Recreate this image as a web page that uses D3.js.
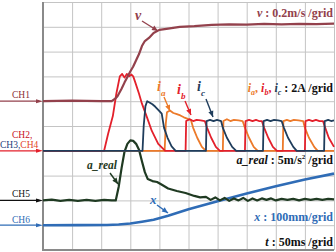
<!DOCTYPE html>
<html>
<head>
<meta charset="utf-8">
<script src="https://cdn.jsdelivr.net/npm/d3@7"></script>
<style>
  body { margin: 0; background: #fff; }
  svg { display: block; }
  text { font-family: "Liberation Serif", "Times New Roman", serif; }
</style>
</head>
<body>
<script>
// time in ms, 50 ms per grid
const timeTicks = [0, 50, 100, 150, 200, 250, 300, 350, 400, 450, 500]
const rowTicks = [0, 1, 2, 3, 4, 5, 6, 7, 8, 9, 10]

// v (m/s)
const speed = [
  [0, 0], [50, 0.005], [100, 0], [118, 0], [124, 0.02], [128, 0.04], [135, 0.1], [140, 0.15],
  [145, 0.195], [150, 0.24], [155, 0.28], [160, 0.33], [165, 0.38], [170, 0.445],
  [175, 0.485], [182, 0.51], [190, 0.55], [200, 0.575], [215, 0.585], [235, 0.6],
  [260, 0.605], [290, 0.615], [320, 0.62], [350, 0.618], [380, 0.623], [410, 0.62],
  [440, 0.624], [470, 0.621], [500, 0.625]
]

// phase currents (A)
const currentA = [
  [0, 0], [209, 0], [211, 2.2], [213, 3.1], [218, 3.25], [224, 3.05], [230, 2.95],
  [236, 2.85], [242, 2.7], [250, 2.55], [254, 2.5], [258, 1.85], [265, 1.05], [273, 0.32],
  [280, 0], [309, 0], [310, 2.4], [316, 2.55], [322, 2.4], [328, 2.5], [336, 2.45],
  [343, 2.4], [347, 1.85], [354, 1.05], [362, 0.32], [369, 0], [412, 0], [413, 2.4],
  [419, 2.5], [425, 2.4], [431, 2.5], [439, 2.45], [447, 2.4], [450, 1.85], [457, 1.05],
  [466, 0.32], [472, 0], [500, 0]
]
const currentB = [
  [0, 0], [105, 0], [112, 1.4], [120, 2.8], [126, 4.6], [132, 6.0], [136, 6.2], [140, 5.9],
  [144, 6.2], [148, 6.0], [152, 6.15], [155, 6.0], [158, 5.6], [165, 4.6], [170, 3.8],
  [179, 2.66], [187, 1.6], [198, 0.56], [210, 0], [245, 0], [246, 2.4], [252, 2.55],
  [258, 2.4], [264, 2.5], [271, 2.45], [278, 2.4], [282, 1.85], [289, 1.05], [297, 0.32],
  [304, 0], [347, 0], [348, 2.4], [354, 2.5], [360, 2.4], [366, 2.5], [371, 2.4],
  [376, 2.4], [380, 1.85], [387, 1.05], [395, 0.32], [402, 0], [450, 0], [451, 2.4],
  [457, 2.5], [463, 2.4], [469, 2.5], [475, 2.4], [481, 2.4], [485, 1.85], [491, 1.05],
  [500, 0.32]
]
const currentC = [
  [0, 0], [171, 0], [173, 2.0], [176, 3.6], [179, 4.0], [183, 3.9], [188, 3.75],
  [193, 3.55], [198, 3.3], [204, 3.0], [208, 1.85], [214, 1.05], [221, 0.35], [228, 0],
  [280, 0], [281, 2.4], [287, 2.5], [293, 2.4], [299, 2.5], [306, 2.4], [309, 1.85],
  [316, 1.05], [325, 0.32], [332, 0], [378, 0], [379, 2.4], [385, 2.5], [391, 2.4],
  [397, 2.5], [404, 2.45], [410, 2.4], [414, 1.85], [421, 1.05], [430, 0.32], [436, 0],
  [483, 0], [484, 2.4], [490, 2.5], [495, 2.4], [500, 2.45]
]

// a_real (m/s^2)
const accel = [
  [0, 0], [15, 0.15], [30, -0.1], [45, 0.1], [60, -0.1], [75, 0.12], [90, -0.08],
  [105, 0.1], [118, 0], [125, 0], [130, 2.7], [135, 6.5], [140, 9.8], [145, 11.4],
  [150, 12.1], [155, 12.0], [160, 11.4], [165, 10.2], [170, 7.9], [175, 5.7], [180, 4.3],
  [188, 3.9], [196, 3.7], [205, 3.1], [215, 2.4], [230, 1.9], [245, 1.5], [260, 0.9],
  [270, 0.6], [280, 0.7], [288, 0.1], [296, 0.6], [304, 0.0], [312, 0.5], [320, -0.1],
  [328, 0.4], [336, 0.0], [344, 0.5], [352, -0.1], [360, 0.4], [368, 0.0], [376, 0.4],
  [384, 0.1], [392, 0.4], [400, 0.0], [410, 0.3], [420, 0.1], [430, 0.3], [440, 0.0],
  [450, 0.3], [460, 0.1], [470, 0.3], [480, 0.1], [490, 0.3], [500, 0.2]
]

// x (mm)
const position = [
  [0, 0], [60, 0.5], [110, 1], [130, 3], [150, 7], [170, 14], [190, 22], [215, 38],
  [250, 64], [300, 97], [350, 128], [400, 157], [450, 184], [500, 208]
]

const size = { width: 336, height: 252 }
const plot = { left: 43, right: 334, top: 2, bottom: 250 }

const svg = d3.select('body')
  .append('svg')
  .attr('width', size.width)
  .attr('height', size.height)

const xScale = d3.scaleLinear().domain([0, 500]).range([plot.left, plot.right])
const rowScale = d3.scaleLinear().domain([0, 10]).range([plot.top, plot.bottom])

function channelScale(row, perGrid) {
  return d3.scaleLinear().domain([0, perGrid]).range([rowScale(row), rowScale(row - 1)])
}
const vScale = channelScale(4, 0.2)
const iScale = channelScale(6, 2)
const aScale = channelScale(8, 5)
const pScale = channelScale(9, 100)

// grid
svg.append('g')
  .attr('transform', 'translate(0,' + plot.bottom + ')')
  .call(d3.axisBottom(xScale).tickValues(timeTicks).tickSize(-(plot.bottom - plot.top)).tickFormat(''))
  .call(g => g.select('.domain').remove())
  .selectAll('line').attr('stroke', '#c4c4c4').attr('stroke-width', 1)

svg.append('g')
  .attr('transform', 'translate(' + plot.left + ',0)')
  .call(d3.axisLeft(rowScale).tickValues(rowTicks).tickSize(-(plot.right - plot.left)).tickFormat(''))
  .call(g => g.select('.domain').remove())
  .selectAll('line').attr('stroke', '#c4c4c4').attr('stroke-width', 1)

svg.append('line')
  .attr('x1', plot.left).attr('x2', plot.left)
  .attr('y1', plot.top).attr('y2', plot.bottom + 1)
  .attr('stroke', '#8a8a8a').attr('stroke-width', 2)
svg.append('line')
  .attr('x1', plot.left).attr('x2', plot.right)
  .attr('y1', plot.bottom).attr('y2', plot.bottom)
  .attr('stroke', '#8a8a8a').attr('stroke-width', 2)

const colors = {
  v: '#93414c',
  a: '#ec7a2a',
  b: '#e3202b',
  c: '#1f3d5c',
  acc: '#1f3a22',
  x: '#2f6cb6'
}

function trace(data, yScale, color, width) {
  svg.append('path')
    .datum(data)
    .attr('fill', 'none')
    .attr('stroke', color)
    .attr('stroke-width', width)
    .attr('stroke-linejoin', 'round')
    .attr('d', d3.line().x(d => xScale(d[0])).y(d => yScale(d[1])))
}

// channel markers at the left
function channel(y, color, labels, labelY) {
  svg.append('line')
    .attr('x1', 0).attr('x2', plot.left - 4)
    .attr('y1', y).attr('y2', y)
    .attr('stroke', color).attr('stroke-width', 1.3)
  svg.append('path')
    .attr('d', 'M' + (plot.left - 7) + ',' + (y - 2) + 'L' + plot.left + ',' + y + 'L' + (plot.left - 7) + ',' + (y + 2) + 'Z')
    .attr('fill', color)
}

channel(vScale(0), colors.v)
channel(iScale(0), colors.b)
channel(aScale(0), '#111')
channel(pScale(0), colors.x)

function chText(x, y, parts) {
  let t = svg.append('text').attr('x', x).attr('y', y).style('font-size', '9.5px')
  parts.forEach(p => t.append('tspan').attr('fill', p[1]).text(p[0]))
}
chText(12, 98, [['CH1', '#8b2e35']])
chText(12, 138, [['CH2,', '#c8101c']])
chText(0, 148, [['CH3,', '#1f3d7a'], ['CH4', '#e2452a']])
chText(12, 197, [['CH5', '#111']])
chText(12, 223, [['CH6', colors.x]])

trace(position, pScale, colors.x, 2.6)
trace(accel, aScale, colors.acc, 2.2)
trace(currentA, iScale, colors.a, 1.8)
trace(currentB, iScale, colors.b, 1.8)
trace(currentC, iScale, colors.c, 1.8)
trace(speed, vScale, colors.v, 2.2)

// pointer arrows for the trace labels
function pointer(x1, y1, x2, y2, color) {
  svg.append('line')
    .attr('x1', x1).attr('y1', y1).attr('x2', x2).attr('y2', y2)
    .attr('stroke', color).attr('stroke-width', 1.4)
  let ang = Math.atan2(y2 - y1, x2 - x1)
  let len = 6, w = 2.6
  let bx = x2 - len * Math.cos(ang), by = y2 - len * Math.sin(ang)
  let px = -Math.sin(ang) * w, py = Math.cos(ang) * w
  svg.append('path')
    .attr('d', 'M' + x2 + ',' + y2 + 'L' + (bx + px) + ',' + (by + py) + 'L' + (bx - px) + ',' + (by - py) + 'Z')
    .attr('fill', color)
}

function italicLabel(x, y, main, sub, color, size) {
  let t = svg.append('text').attr('x', x).attr('y', y)
    .attr('fill', color)
    .style('font-size', size + 'px')
    .style('font-weight', 'bold')
    .style('font-style', 'italic')
  t.append('tspan').text(main)
  if (sub) t.append('tspan').attr('dy', 5).style('font-size', (size * 0.65) + 'px').text(sub)
}

italicLabel(135, 20, 'v', null, colors.v, 14)
pointer(142, 21, 158, 31, colors.v)
italicLabel(157, 91, 'i', 'a', colors.a, 14)
pointer(164, 97, 170, 111, colors.a)
italicLabel(177, 94, 'i', 'b', colors.b, 14)
pointer(185, 101, 191, 115, colors.b)
italicLabel(197, 91, 'i', 'c', colors.c, 14)
pointer(206, 99, 213, 117, colors.c)
italicLabel(87, 169, 'a_real', null, colors.acc, 11.5)
pointer(110, 173, 118, 184, colors.acc)
italicLabel(150, 204, 'x', null, colors.x, 13)
pointer(157, 205, 168, 213, colors.x)

// scale notes at the right
function note(y, parts) {
  let t = svg.append('text').attr('x', 333).attr('y', y)
    .attr('text-anchor', 'end')
    .style('font-size', '12px')
    .style('font-weight', 'bold')
  parts.forEach(p => {
    let s = t.append('tspan').attr('fill', p[1]).text(p[0])
    if (p[2] === 'i') s.style('font-style', 'italic')
    if (p[2] === 'sub') s.style('font-style', 'italic').style('font-size', '8px').attr('dy', 3)
    if (p[2] === 'up') s.attr('dy', -3)
    if (p[2] === 'sup') s.style('font-size', '7px').attr('dy', -5)
    if (p[2] === 'back') s.attr('dy', 5)
  })
}
note(17, [['v', colors.v, 'i'], [' : 0.2m/s /grid', colors.v]])
note(92, [['i', colors.a, 'i'], ['a', colors.a, 'sub'], [',', colors.a, 'up'],
  [' i', colors.b, 'i'], ['b', colors.b, 'sub'], [',', colors.b, 'up'],
  [' i', colors.c, 'i'], ['c', colors.c, 'sub'], [' : 2A /grid', '#111', 'up']])
note(164, [['a_real', '#111', 'i'], [' : 5m/s', '#111'], ['2', '#111', 'sup'], [' /grid', '#111', 'back']])
note(221, [['x', colors.x, 'i'], [' : 100mm/grid', colors.x]])
note(246, [['t', '#111', 'i'], [' : 50ms /grid', '#111']])
</script>
</body>
</html>
